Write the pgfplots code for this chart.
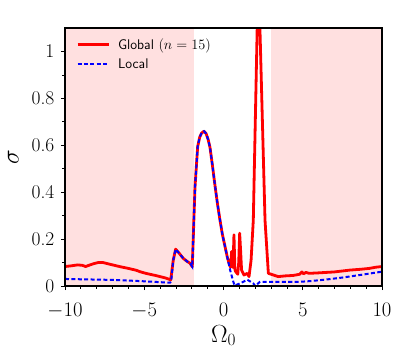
\documentclass[border=0pt]{standalone}
\usepackage{pgfplots}
\pgfplotsset{compat=1.18}
\begin{document}
\begin{tikzpicture}
\begin{axis}[
  scale only axis,
  width=317bp, height=258bp,
  xmin=-10, xmax=10, ymin=0, ymax=1.1,
  xtick={-10,-5,0,5,10},
  ytick={0,0.2,0.4,0.6,0.8,1},
  yticklabels={0,0.2,0.4,0.6,0.8,1},
  minor x tick num=4,
  minor y tick num=1,
  tick align=outside,
  xtick pos=bottom, ytick pos=left,
  major tick length=4bp, minor tick length=2.5bp,
  tick style={black, line width=0.8bp},
  axis line style={line width=1.1bp},
  tick label style={font=\fontsize{19.5}{19.5}\selectfont, inner sep=0.5bp},
  xticklabel style={yshift=-12bp},
  yticklabel style={xshift=-6bp},
  xlabel={$\Omega_0$},
  ylabel={$\sigma$},
  label style={font=\fontsize{25}{25}\selectfont},
  x label style={at={(axis description cs:0.5,-0.192)}, anchor=center},
  y label style={at={(axis description cs:-0.163,0.5)}, anchor=center, inner sep=1bp},
  axis on top,
  clip=true,
  legend style={at={(0.025,0.975)}, anchor=north west, draw=none, fill=none,
    font=\fontsize{14}{14}\selectfont, row sep=4bp},
  legend cell align=left,
  legend image code/.code={\draw[#1] plot coordinates {(0cm,0cm) (0.55cm,0cm) (1.1cm,0cm)}; \path (1.1cm+6bp,0cm);},
]
\addplot[fill=red!12, draw=none, forget plot] coordinates {(-10,1.1) (-1.84,1.1)} \closedcycle;
\addplot[fill=red!12, draw=none, forget plot] coordinates {(2.97,1.1) (10,1.1)} \closedcycle;

\addplot[red, line width=2.8bp, line join=round] coordinates {
(-10,0.083) (-9.6,0.086) (-9.2,0.09) (-8.9,0.088) (-8.7,0.083) (-8.5,0.088) (-8.2,0.095)
(-7.9,0.1) (-7.6,0.1) (-7.3,0.095) (-7.0,0.09) (-6.5,0.082) (-6.0,0.075) (-5.5,0.067)
(-5.27,0.061) (-4.9,0.054) (-4.64,0.05) (-4.3,0.045) (-4.0,0.04) (-3.7,0.035) (-3.48,0.03)
(-3.33,0.026) (-3.17,0.11) (-3.02,0.157) (-2.8,0.14) (-2.54,0.118) (-2.3,0.105) (-2.11,0.097)
(-1.97,0.082) (-1.80,0.42) (-1.63,0.594) (-1.5,0.635) (-1.38,0.652) (-1.23,0.66) (-1.1,0.65)
(-0.97,0.625) (-0.85,0.59) (-0.7,0.515) (-0.54,0.43) (-0.38,0.35) (-0.22,0.28) (-0.07,0.22)
(0.09,0.17) (0.25,0.12) (0.38,0.09) (0.45,0.08)
(0.51,0.147) (0.57,0.08) (0.6,0.08) (0.66,0.218) (0.72,0.07) (0.77,0.061) (0.9,0.05)
(0.96,0.1) (1.02,0.225) (1.08,0.15) (1.14,0.068) (1.29,0.047) (1.5,0.054) (1.61,0.04)
(1.74,0.11) (1.88,0.28) (2.2,1.35) (2.62,0.28) (2.83,0.054) (3.14,0.047) (3.45,0.04)
(3.88,0.043) (4.4,0.045) (4.8,0.05) (4.95,0.06) (5.05,0.052) (5.2,0.058) (5.4,0.054)
(6.0,0.056) (6.5,0.058) (7.0,0.06) (7.5,0.064) (8.0,0.068) (8.6,0.071) (9.2,0.075)
(9.6,0.08) (10,0.083)
};
\addlegendentry{\textsf{Global} $(n=15)$}

\addplot[blue, line width=2bp, dash pattern=on 4bp off 2.4bp] coordinates {
(-10,0.03) (-7,0.026) (-5.27,0.021) (-3.37,0.014) (-3.3,0.02)
(-3.17,0.11) (-3.02,0.157) (-2.8,0.14) (-2.54,0.118) (-2.3,0.105) (-2.11,0.097)
(-1.97,0.082) (-1.80,0.42) (-1.63,0.594) (-1.5,0.635) (-1.38,0.652) (-1.23,0.66) (-1.1,0.65)
(-0.97,0.625) (-0.85,0.59) (-0.7,0.515) (-0.54,0.43) (-0.38,0.35) (-0.22,0.28) (-0.07,0.22)
(0.09,0.17) (0.25,0.12) (0.41,0.07)
(0.62,0.018) (0.7,0.002) (1.0,0.01) (1.25,0.018) (1.5,0.027) (1.88,0.011) (2.0,0.0)
(2.3,0.018) (3.0,0.018) (3.88,0.018) (4.84,0.018) (5.5,0.021) (6.53,0.028) (7.5,0.036)
(8.63,0.047) (9.3,0.054) (10,0.061)
};
\addlegendentry{\textsf{Local}}
\end{axis}
\pgfresetboundingbox
\path ([xshift=-65bp,yshift=-63bp]current axis.south west) rectangle ([xshift=25bp,yshift=28bp]current axis.north east);
\end{tikzpicture}
\end{document}
